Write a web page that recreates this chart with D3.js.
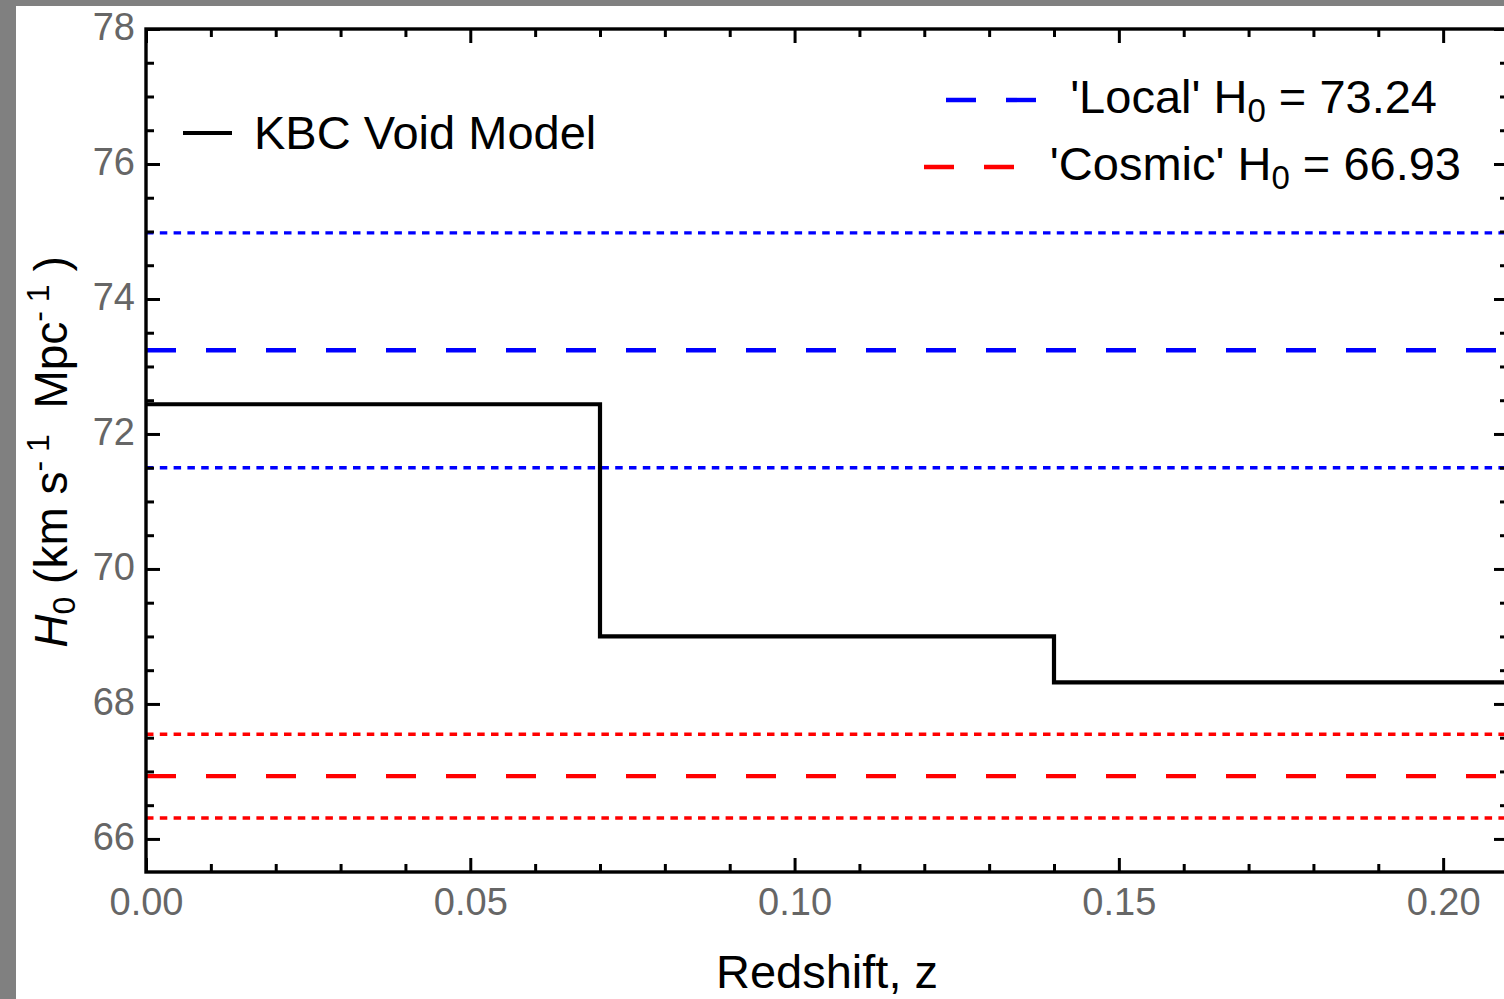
<!DOCTYPE html>
<html>
<head>
<meta charset="utf-8">
<script src="https://cdn.jsdelivr.net/npm/d3@7"></script>
<style>
  html, body { margin: 0; padding: 0; background: #808080; overflow: hidden; }
  svg { display: block; font-family: "Liberation Sans", Arial, sans-serif; }
</style>
</head>
<body>
<svg id="chart" width="1504" height="999"></svg>
<script>
// data
var stepEdges = [0, 0.07, 0.14, 0.21];      // redshift bin edges
var stepH0 = [72.44, 69.00, 68.32];         // KBC void model H0 per bin
var localH0 = 73.24, localErr = 1.74;
var cosmicH0 = 66.93, cosmicErr = 0.62;
var xMajor = [0, 0.05, 0.10, 0.15, 0.20];
var xMinor = [0.01,0.02,0.03,0.04,0.06,0.07,0.08,0.09,0.11,0.12,0.13,0.14,0.16,0.17,0.18,0.19,0.21];
var yMajor = [66, 68, 70, 72, 74, 76, 78];
var yMinor = [66.5,67,67.5,68.5,69,69.5,70.5,71,71.5,72.5,73,73.5,74.5,75,75.5,76.5,77,77.5];

var svg = d3.select('#chart');
svg.append('rect').attr('x',16).attr('y',6).attr('width',1504).attr('height',999).attr('fill','#fff');

var L = 146, R = 1508, T = 29, B = 872;
var x = d3.scaleLinear().domain([0, 0.21]).range([L, R]);
var y = d3.scaleLinear().domain([65.51, 78]).range([B, T]);

svg.append('clipPath').attr('id','clip').append('rect')
	.attr('x',L).attr('y',T).attr('width',R-L).attr('height',B-T);
var plot = svg.append('g').attr('clip-path','url(#clip)');

// horizontal reference lines
function hline(v, color, dash, w){
	plot.append('line')
		.attr('x1',x(0)).attr('x2',x(0.21))
		.attr('y1',y(v)).attr('y2',y(v))
		.attr('stroke',color).attr('stroke-width',w)
		.attr('stroke-dasharray',dash);
}
var dotted = '7.5,6.3', dashed = '30,30';
hline(localH0+localErr, '#0000ff', dotted, 3.4);
hline(localH0-localErr, '#0000ff', dotted, 3.4);
hline(localH0, '#0000ff', dashed, 4.4);
hline(cosmicH0+cosmicErr, '#ff0000', dotted, 3.4);
hline(cosmicH0-cosmicErr, '#ff0000', dotted, 3.4);
hline(cosmicH0, '#ff0000', dashed, 4.4);

// stepped model curve
var pts = [];
stepH0.forEach(function(h,i){
	pts.push([stepEdges[i], h]);
	pts.push([stepEdges[i+1], h]);
});
plot.append('path')
	.attr('d', d3.line().x(function(d){return x(d[0]);}).y(function(d){return y(d[1]);})(pts))
	.attr('fill','none').attr('stroke','#000').attr('stroke-width',4.2);

// axes: major + minor ticks on all four sides, pointing inward
function styleAxis(g){
	g.select('.domain').remove();
	g.selectAll('line').attr('stroke','#000').attr('stroke-width',3);
	g.selectAll('text').attr('fill','#666').style('font-size','38px')
		.style('font-family','"Liberation Sans", Arial, sans-serif');
}
var fmtX = d3.format('.2f');
svg.append('g').attr('transform','translate(0,'+B+')')
	.call(d3.axisBottom(x).tickValues(xMajor).tickSize(-14).tickPadding(16).tickFormat(fmtX)).call(styleAxis);
svg.append('g').attr('transform','translate(0,'+B+')')
	.call(d3.axisBottom(x).tickValues(xMinor).tickSize(-8).tickFormat('')).call(styleAxis);
svg.append('g').attr('transform','translate(0,'+T+')')
	.call(d3.axisTop(x).tickValues(xMajor).tickSize(-14).tickFormat('')).call(styleAxis);
svg.append('g').attr('transform','translate(0,'+T+')')
	.call(d3.axisTop(x).tickValues(xMinor).tickSize(-8).tickFormat('')).call(styleAxis);
var ly = svg.append('g').attr('transform','translate('+L+',0)')
	.call(d3.axisLeft(y).tickValues(yMajor).tickSize(-14).tickPadding(11).tickFormat(d3.format('d'))).call(styleAxis);
ly.selectAll('text').attr('dy','0.27em');
svg.append('g').attr('transform','translate('+L+',0)')
	.call(d3.axisLeft(y).tickValues(yMinor).tickSize(-8).tickFormat('')).call(styleAxis);
svg.append('g').attr('transform','translate('+R+',0)')
	.call(d3.axisRight(y).tickValues(yMajor).tickSize(-14).tickFormat('')).call(styleAxis);
svg.append('g').attr('transform','translate('+R+',0)')
	.call(d3.axisRight(y).tickValues(yMinor).tickSize(-8).tickFormat('')).call(styleAxis);

// frame
svg.append('rect').attr('x',L).attr('y',T).attr('width',R-L).attr('height',B-T)
	.attr('fill','none').attr('stroke','#000').attr('stroke-width',3.4);

// axis titles
svg.append('text').attr('x',827).attr('y',988).attr('text-anchor','middle')
	.style('font-size','47px').attr('fill','#000').text('Redshift, z');

var yt = svg.append('text').attr('transform','translate(67,452) rotate(-90)')
	.attr('text-anchor','middle').style('font-size','46px').style('white-space','pre').attr('fill','#000');
yt.append('tspan').style('font-style','italic').text('H');
yt.append('tspan').attr('dy',8).style('font-size','32px').text('0');
yt.append('tspan').attr('dy',-8).text(' (km s');
yt.append('tspan').attr('dy',-18).style('font-size','32px').text('- 1');
yt.append('tspan').attr('dy',18).text('  Mpc');
yt.append('tspan').attr('dy',-18).style('font-size','32px').text('- 1');
yt.append('tspan').attr('dy',18).text(' )');

// legends
svg.append('line').attr('x1',183).attr('x2',232).attr('y1',133).attr('y2',133)
	.attr('stroke','#000').attr('stroke-width',4.2);
svg.append('text').attr('x',254).attr('y',149).style('font-size','47px').attr('fill','#000').text('KBC Void Model');

function legendEntry(xs, ly, color, label, value, xEnd){
	svg.append('line').attr('x1',xs).attr('x2',xs+90).attr('y1',ly).attr('y2',ly)
		.attr('stroke',color).attr('stroke-width',4.4).attr('stroke-dasharray','30,30');
	var t = svg.append('text').attr('x',xEnd).attr('y',ly+13).attr('text-anchor','end')
		.style('font-size','47px').attr('fill','#000');
	t.append('tspan').text(label+' H');
	t.append('tspan').attr('dy',9).style('font-size','33px').text('0');
	t.append('tspan').attr('dy',-9).text(' = '+value.toFixed(2));
}
legendEntry(946, 100, '#0000ff', "'Local'", localH0, 1437);
legendEntry(924, 167, '#ff0000', "'Cosmic'", cosmicH0, 1461);
</script>
</body>
</html>
